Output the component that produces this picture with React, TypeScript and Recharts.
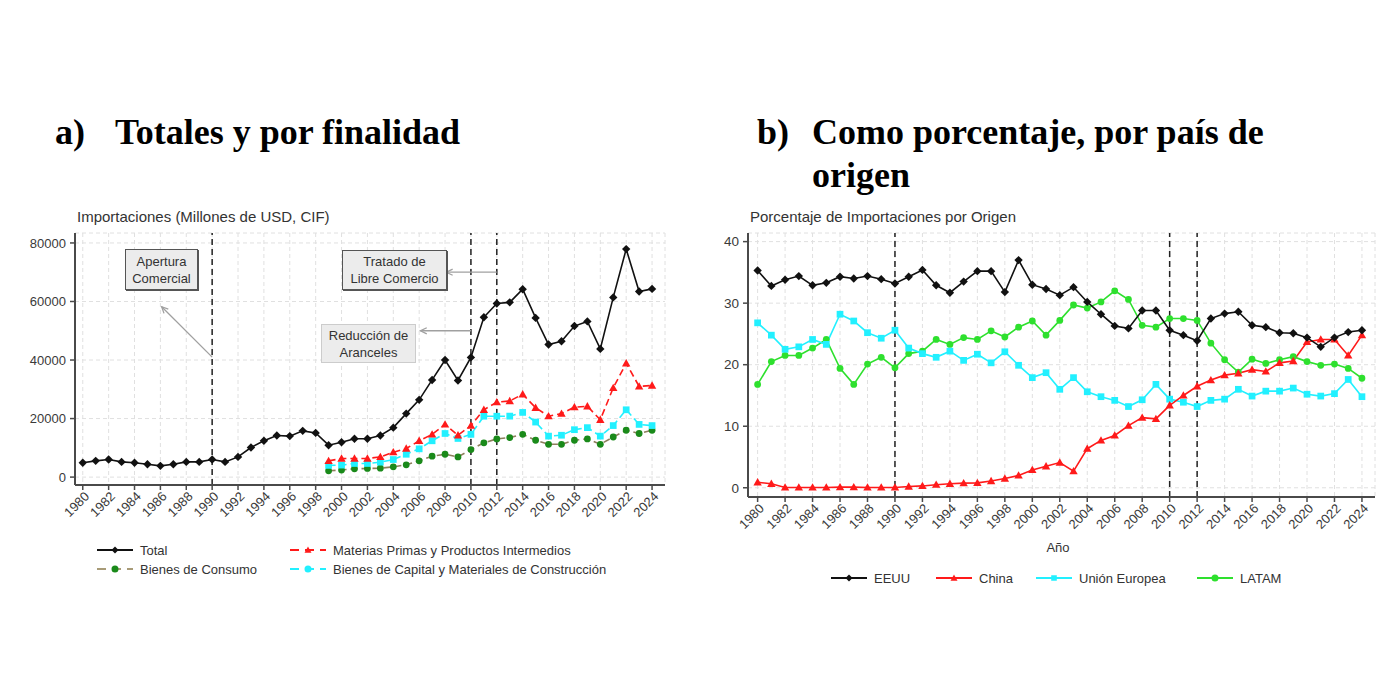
import { CartesianGrid, Line, LineChart, ReferenceLine, XAxis, YAxis } from "recharts";

const SANS = '"Liberation Sans", Arial, sans-serif';
const SERIF = '"Liberation Serif", "Times New Roman", serif';

// años 1980-2024
const years = [
  1980, 1981, 1982, 1983, 1984, 1985, 1986, 1987, 1988, 1989, 1990, 1991, 1992, 1993, 1994,
  1995, 1996, 1997, 1998, 1999, 2000, 2001, 2002, 2003, 2004, 2005, 2006, 2007, 2008, 2009,
  2010, 2011, 2012, 2013, 2014, 2015, 2016, 2017, 2018, 2019, 2020, 2021, 2022, 2023, 2024,
];
const subYears = [
  1999, 2000, 2001, 2002, 2003, 2004, 2005, 2006, 2007, 2008, 2009, 2010, 2011, 2012, 2013,
  2014, 2015, 2016, 2017, 2018, 2019, 2020, 2021, 2022, 2023, 2024,
];
const yearTicks = [
  1980, 1982, 1984, 1986, 1988, 1990, 1992, 1994, 1996, 1998, 2000, 2002, 2004, 2006, 2008,
  2010, 2012, 2014, 2016, 2018, 2020, 2022, 2024,
];

// a) millones de USD
const total = [
  4900, 5550, 6000, 5200, 4900, 4400, 3850, 4400, 5200, 5200, 6000, 5200, 6900, 10100, 12400,
  14200, 14000, 15800, 15100, 10900, 11900, 13100, 13100, 14200, 16900, 21700, 26400, 33200,
  40000, 33000, 40900, 54600, 59300, 59700, 64200, 54400, 45300, 46400, 51600, 53200, 43800,
  61400, 77900, 63400, 64300,
];
const materias = [
  5550, 6350, 6350, 6350, 6900, 8500, 9750, 12400, 14600, 18000, 14300, 17600, 23000, 25600,
  26000, 28300, 23700, 20800, 21700, 23900, 24200, 19600, 30500, 38900, 31000, 31300,
];
const capital = [
  4000, 4100, 4650, 4650, 5100, 6000, 7800, 9650, 12400, 14900, 13200, 14600, 20800, 20800,
  20800, 22100, 18800, 14000, 14300, 16200, 16900, 14000, 17600, 23000, 18000, 17600,
];
const consumo = [
  2150, 2400, 2850, 2950, 3050, 3500, 4200, 5550, 7150, 7800, 6900, 9400, 11700, 13050, 13500,
  14600, 12600, 11200, 11200, 12600, 13050, 11200, 13700, 16000, 14900, 16000,
];
const leftYTicks = [0, 20000, 40000, 60000, 80000];

// b) porcentaje por origen
const eeuu = [
  35.3, 32.8, 33.8, 34.4, 32.9, 33.3, 34.3, 34.0, 34.4, 33.9, 33.2, 34.3, 35.4, 32.9, 31.7,
  33.5, 35.2, 35.2, 31.8, 37.0, 33.0, 32.3, 31.3, 32.6, 30.2, 28.2, 26.3, 25.9, 28.8, 28.8,
  25.6, 24.8, 23.9, 27.5, 28.3, 28.6, 26.4, 26.1, 25.2, 25.1, 24.4, 22.9, 24.4, 25.3, 25.6,
];
const china = [
  0.9, 0.65, 0.05, 0.05, 0.05, 0.05, 0.1, 0.1, 0.05, 0.05, 0.05, 0.2, 0.3, 0.5, 0.65, 0.75,
  0.8, 1.1, 1.5, 2.0, 2.9, 3.5, 4.1, 2.7, 6.35, 7.7, 8.5, 10.1, 11.4, 11.2, 13.4, 15.0, 16.5,
  17.5, 18.3, 18.6, 19.2, 18.9, 20.3, 20.6, 23.7, 24.1, 24.1, 21.5, 24.8,
];
const ue = [
  26.8, 24.8, 22.5, 22.9, 24.1, 23.3, 28.2, 27.1, 25.2, 24.3, 25.6, 22.7, 21.8, 21.2, 22.2,
  20.7, 21.7, 20.3, 22.1, 19.9, 17.9, 18.7, 16.0, 17.9, 15.6, 14.8, 14.2, 13.2, 14.3, 16.8,
  14.4, 13.9, 13.2, 14.2, 14.4, 16.0, 14.9, 15.7, 15.7, 16.2, 15.2, 14.9, 15.3, 17.6, 14.8,
];
const latam = [
  16.8, 20.5, 21.5, 21.5, 22.7, 24.1, 19.4, 16.8, 20.1, 21.2, 19.5, 21.8, 22.2, 24.1, 23.3,
  24.4, 24.1, 25.5, 24.5, 26.1, 27.1, 24.8, 27.2, 29.7, 29.2, 30.2, 32.0, 30.6, 26.4, 26.1,
  27.5, 27.5, 27.2, 23.5, 20.8, 18.8, 20.9, 20.2, 20.8, 21.3, 20.5, 19.9, 20.1, 19.4, 17.8,
];
const rightYTicks = [0, 10, 20, 30, 40];

const totalRows = years.map((year, i) => ({ year, total: total[i] }));
const subRows = subYears.map((year, i) => ({
  year,
  materias: materias[i],
  capital: capital[i],
  consumo: consumo[i],
}));
const origenRows = years.map((year, i) => ({
  year,
  eeuu: eeuu[i],
  china: china[i],
  ue: ue[i],
  latam: latam[i],
}));

type Shape = "diamond" | "triangle" | "square" | "circle";

function markerPath(shape: Shape, cx: number, cy: number, r: number) {
  if (shape === "diamond") return `M${cx},${cy - r}L${cx + r},${cy}L${cx},${cy + r}L${cx - r},${cy}Z`;
  if (shape === "triangle")
    return `M${cx},${cy - r}L${cx + r},${cy + r * 0.75}L${cx - r},${cy + r * 0.75}Z`;
  if (shape === "square") return `M${cx - r * 0.8},${cy - r * 0.8}h${r * 1.6}v${r * 1.6}h${-r * 1.6}Z`;
  return `M${cx - r},${cy}a${r},${r} 0 1,0 ${2 * r},0a${r},${r} 0 1,0 ${-2 * r},0Z`;
}

const makeDot = (shape: Shape, fill: string, r = 4) => (props: any) => {
  const { cx, cy, index } = props;
  if (cx == null || cy == null) return <g key={`d-${index}`} />;
  return <path key={`d-${index}`} d={markerPath(shape, cx, cy, r)} fill={fill} stroke="none" />;
};

function YearTick({ x, y, payload, fontSize }: any) {
  return (
    <g transform={`translate(${x + 4},${y + 2}) rotate(-45)`}>
      <text x={0} y={0} dy="0.35em" textAnchor="end" fontSize={fontSize} fontFamily={SANS} fill="#3a3a3a">
        {payload.value}
      </text>
    </g>
  );
}

function Arrow(props: any) {
  const { x1, y1, x2, y2 } = props;
  const a = Math.atan2(y2 - y1, x2 - x1);
  const h = 7;
  const p1 = `${x2 - h * Math.cos(a - 0.45)},${y2 - h * Math.sin(a - 0.45)}`;
  const p2 = `${x2 - h * Math.cos(a + 0.45)},${y2 - h * Math.sin(a + 0.45)}`;
  return (
    <g>
      <line x1={x1} y1={y1} x2={x2} y2={y2} stroke="#a0a0a0" strokeWidth={1.3} />
      <polyline points={`${p1} ${x2},${y2} ${p2}`} fill="none" stroke="#a0a0a0" strokeWidth={1.3} />
    </g>
  );
}

const axisLine = { stroke: "#4a4a4a", strokeWidth: 2 };
const tickLine = { stroke: "#4a4a4a", strokeWidth: 1.5 };

function LegendSample({ color, lineColor, shape, dashed }: any) {
  return (
    <svg width={36} height={10} style={{ display: "block" }}>
      <line
        x1={0}
        y1={5}
        x2={36}
        y2={5}
        stroke={lineColor ?? color}
        strokeWidth={1.8}
        strokeDasharray={dashed ? "9 6" : undefined}
      />
      <path d={markerPath(shape, 18, 5, 3.5)} fill={color} />
    </svg>
  );
}

function LegendItem({ left, top, label, ...rest }: any) {
  return (
    <div style={{ position: "absolute", left, top, display: "flex", alignItems: "center", height: 14 }}>
      <LegendSample {...rest} />
      <span style={{ marginLeft: 7, fontSize: 13, fontFamily: SANS, color: "#333", whiteSpace: "nowrap" }}>
        {label}
      </span>
    </div>
  );
}

function Box({ left, top, width, height, border, lines }: any) {
  return (
    <div
      style={{
        position: "absolute",
        left,
        top,
        width,
        height,
        boxSizing: "border-box",
        background: "#ececec",
        border,
        boxShadow: border.includes("#ccc") ? "none" : "1px 1px 0 #555",
        fontFamily: SANS,
        fontSize: 13,
        color: "#333",
        lineHeight: "17px",
        textAlign: "center",
        display: "flex",
        flexDirection: "column",
        justifyContent: "center",
      }}
    >
      {lines.map((l: string) => (
        <div key={l}>{l}</div>
      ))}
    </div>
  );
}

export default function App() {
  return (
    <div
      style={{
        position: "absolute",
        left: 0,
        top: 0,
        width: 1400,
        height: 700,
        background: "#fff",
        overflow: "hidden",
      }}
    >
      {/* títulos */}
      <div style={{ position: "absolute", left: 55, top: 111, fontFamily: SERIF, fontWeight: "bold", fontSize: 36, lineHeight: "43px" }}>
        a)
      </div>
      <div style={{ position: "absolute", left: 115, top: 111, fontFamily: SERIF, fontWeight: "bold", fontSize: 36, lineHeight: "43px", whiteSpace: "nowrap" }}>
        Totales y por finalidad
      </div>
      <div style={{ position: "absolute", left: 757, top: 111, fontFamily: SERIF, fontWeight: "bold", fontSize: 36, lineHeight: "43px" }}>
        b)
      </div>
      <div style={{ position: "absolute", left: 812, top: 111, fontFamily: SERIF, fontWeight: "bold", fontSize: 36, lineHeight: "43px", whiteSpace: "nowrap" }}>
        Como porcentaje, por país de
        <br />
        origen
      </div>

      {/* a) */}
      <div style={{ position: "absolute", left: 77, top: 209, fontFamily: SANS, fontSize: 15, lineHeight: "15px", color: "#333", whiteSpace: "nowrap" }}>
        Importaciones (Millones de USD, CIF)
      </div>
      <div style={{ position: "absolute", left: 0, top: 200 }}>
        <LineChart width={700} height={360} data={totalRows} margin={{ top: 33, right: 35, left: 0, bottom: 0 }}>
          <CartesianGrid stroke="#e0e0e0" strokeDasharray="4 3" />
          <XAxis
            dataKey="year"
            type="number"
            domain={[1979.4, 2025]}
            ticks={yearTicks}
            interval={0}
            allowDataOverflow
            height={75}
            axisLine={axisLine}
            tickLine={tickLine}
            tickSize={5}
            tick={<YearTick fontSize={13} />}
          />
          <YAxis
            type="number"
            domain={[-2700, 83400]}
            ticks={leftYTicks}
            allowDataOverflow
            width={75}
            axisLine={axisLine}
            tickLine={tickLine}
            tickSize={5}
            tickMargin={4}
            tick={{ fontSize: 13, fill: "#3a3a3a", fontFamily: SANS }}
          />
          <ReferenceLine x={1990} stroke="#222" strokeWidth={1.5} strokeDasharray="6 4" />
          <ReferenceLine x={2010} stroke="#222" strokeWidth={1.5} strokeDasharray="6 4" />
          <ReferenceLine x={2012} stroke="#222" strokeWidth={1.5} strokeDasharray="6 4" />
          <ReferenceLine segment={[{ x: 1990, y: 41000 }, { x: 1986.1, y: 58200 }]} shape={Arrow} />
          <ReferenceLine segment={[{ x: 2012, y: 70000 }, { x: 2008.1, y: 70000 }]} shape={Arrow} />
          <ReferenceLine segment={[{ x: 2010, y: 50000 }, { x: 2006.1, y: 50000 }]} shape={Arrow} />
          <Line
            dataKey="consumo"
            data={subRows}
            stroke="#8c7f5c"
            strokeWidth={1.6}
            strokeDasharray="7 4"
            dot={makeDot("circle", "#1a8a1a", 3.4)}
            isAnimationActive={false}
          />
          <Line
            dataKey="capital"
            data={subRows}
            stroke="#22f0ff"
            strokeWidth={1.6}
            strokeDasharray="7 4"
            dot={makeDot("square", "#22f0ff", 4.2)}
            isAnimationActive={false}
          />
          <Line
            dataKey="materias"
            data={subRows}
            stroke="#ff1a1a"
            strokeWidth={1.6}
            strokeDasharray="7 4"
            dot={makeDot("triangle", "#ff1a1a", 4.2)}
            isAnimationActive={false}
          />
          <Line
            dataKey="total"
            stroke="#111"
            strokeWidth={1.6}
            dot={makeDot("diamond", "#111", 4.2)}
            isAnimationActive={false}
          />
        </LineChart>
      </div>
      <Box left={125} top={249} width={73} height={41} border="1px solid #555" lines={["Apertura", "Comercial"]} />
      <Box left={342} top={250} width={105} height={40} border="1px solid #555" lines={["Tratado de", "Libre Comercio"]} />
      <Box left={321} top={324} width={95} height={39} border="1px solid #ccc" lines={["Reducción de", "Aranceles"]} />

      <LegendItem left={97} top={543} label="Total" color="#111" shape="diamond" />
      <LegendItem left={290} top={543} label="Materias Primas y Productos Intermedios" color="#ff1a1a" shape="triangle" dashed />
      <LegendItem left={97} top={562} label="Bienes de Consumo" color="#1a8a1a" lineColor="#a89b78" shape="circle" dashed />
      <LegendItem left={290} top={562} label="Bienes de Capital y Materiales de Construcción" color="#22f0ff" shape="circle" dashed />

      {/* b) */}
      <div style={{ position: "absolute", left: 750, top: 209, fontFamily: SANS, fontSize: 15, lineHeight: "15px", color: "#333", whiteSpace: "nowrap" }}>
        Porcentaje de Importaciones por Origen
      </div>
      <div style={{ position: "absolute", left: 700, top: 200 }}>
        <LineChart width={700} height={360} data={origenRows} margin={{ top: 33, right: 25, left: 0, bottom: 0 }}>
          <CartesianGrid stroke="#e0e0e0" strokeDasharray="4 3" />
          <XAxis
            dataKey="year"
            type="number"
            domain={[1979.3, 2024.95]}
            ticks={yearTicks}
            interval={0}
            allowDataOverflow
            height={63}
            axisLine={axisLine}
            tickLine={tickLine}
            tickSize={5}
            tick={<YearTick fontSize={13} />}
          />
          <YAxis
            type="number"
            domain={[-1.5, 41.4]}
            ticks={rightYTicks}
            allowDataOverflow
            width={48}
            axisLine={axisLine}
            tickLine={tickLine}
            tickSize={5}
            tickMargin={4}
            tick={{ fontSize: 13.5, fill: "#3a3a3a", fontFamily: SANS }}
          />
          <ReferenceLine x={1990} stroke="#222" strokeWidth={1.5} strokeDasharray="6 4" />
          <ReferenceLine x={2010} stroke="#222" strokeWidth={1.5} strokeDasharray="6 4" />
          <ReferenceLine x={2012} stroke="#222" strokeWidth={1.5} strokeDasharray="6 4" />
          <Line dataKey="latam" stroke="#2ee02e" strokeWidth={1.6} dot={makeDot("circle", "#2ee02e", 3.4)} isAnimationActive={false} />
          <Line dataKey="ue" stroke="#22f0ff" strokeWidth={1.6} dot={makeDot("square", "#22f0ff", 4.2)} isAnimationActive={false} />
          <Line dataKey="china" stroke="#ff1a1a" strokeWidth={1.6} dot={makeDot("triangle", "#ff1a1a", 4.2)} isAnimationActive={false} />
          <Line dataKey="eeuu" stroke="#111" strokeWidth={1.6} dot={makeDot("diamond", "#111", 4.2)} isAnimationActive={false} />
        </LineChart>
      </div>
      <div style={{ position: "absolute", left: 1038, top: 540, width: 40, textAlign: "center", fontFamily: SANS, fontSize: 13, color: "#333" }}>
        Año
      </div>
      <LegendItem left={831} top={571} label="EEUU" color="#111" shape="diamond" />
      <LegendItem left={936} top={571} label="China" color="#ff1a1a" shape="triangle" />
      <LegendItem left={1036} top={571} label="Unión Europea" color="#22f0ff" shape="square" />
      <LegendItem left={1197} top={571} label="LATAM" color="#2ee02e" shape="circle" />
    </div>
  );
}
